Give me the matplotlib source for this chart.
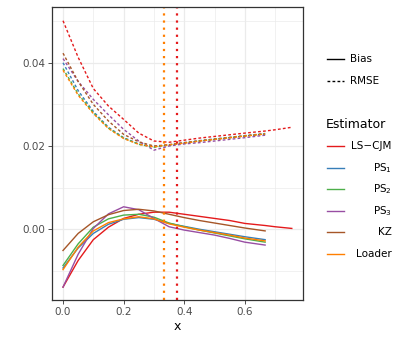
import matplotlib
matplotlib.use("Agg")
import matplotlib.pyplot as plt
from matplotlib.lines import Line2D
import numpy as np

# grid of x values
x_main = [0, 0.05, 0.1, 0.15, 0.2, 0.25, 0.3, 0.35, 0.4, 0.45, 0.5, 0.55, 0.6, 0.667]
x_ls = x_main + [0.7, 0.755]

estimators = ["LS-CJM", "PS1", "PS2", "PS3", "KZ", "Loader"]
labels = ["LS\u2212CJM", "PS$_1$", "PS$_2$", "PS$_3$", "KZ", "Loader"]
colors = ["#E41A1C", "#377EB8", "#4DAF4A", "#984EA3", "#A65628", "#FF7F00"]

rmse_ls = [0.0501, 0.0413, 0.0338, 0.0296, 0.0264, 0.0231, 0.0212, 0.0209, 0.0214,
           0.0219, 0.0223, 0.0227, 0.0231, 0.0236, 0.0239, 0.0245]
rmse_ps1 = [0.0400, 0.0333, 0.0283, 0.0245, 0.0220, 0.0205, 0.0199, 0.0203, 0.0208,
            0.0213, 0.0217, 0.0221, 0.0225, 0.0230]
rmse_ps2 = [0.0386, 0.0325, 0.0280, 0.0243, 0.0219, 0.0204, 0.0197, 0.0202, 0.0207,
            0.0212, 0.0216, 0.0220, 0.0224, 0.0229]
rmse_ps3 = [0.0410, 0.0355, 0.0312, 0.0275, 0.0240, 0.0212, 0.0190, 0.0200, 0.0205,
            0.0208, 0.0212, 0.0216, 0.0220, 0.0226]
rmse_kz = [0.0423, 0.0355, 0.0300, 0.0260, 0.0228, 0.0210, 0.0200, 0.0203, 0.0208,
           0.0212, 0.0216, 0.0220, 0.0224, 0.0229]
rmse_loader = [0.0382, 0.0322, 0.0278, 0.0242, 0.0218, 0.0204, 0.0198, 0.0203, 0.0207,
               0.0212, 0.0216, 0.0220, 0.0224, 0.0229]

bias_ls = [-0.0139, -0.0075, -0.0025, 0.0005, 0.0026, 0.0036, 0.0041, 0.0041, 0.0036,
           0.0031, 0.0026, 0.0021, 0.0014, 0.0009, 0.0006, 0.0002]
bias_ps1 = [-0.0093, -0.0045, -0.0010, 0.0012, 0.0024, 0.0028, 0.0024, 0.0014, 0.0007,
            0.0000, -0.0006, -0.0012, -0.0018, -0.0025]
bias_ps2 = [-0.0087, -0.0035, 0.0005, 0.0025, 0.0034, 0.0036, 0.0029, 0.0015, 0.0006,
            -0.0002, -0.0009, -0.0016, -0.0023, -0.0031]
bias_ps3 = [-0.0139, -0.0060, 0.0002, 0.0037, 0.0054, 0.0047, 0.0026, 0.0006, -0.0002,
            -0.0008, -0.0014, -0.0022, -0.0031, -0.0038]
bias_kz = [-0.0051, -0.0010, 0.0018, 0.0035, 0.0045, 0.0048, 0.0044, 0.0036, 0.0028,
           0.0021, 0.0015, 0.0009, 0.0003, -0.0004]
bias_loader = [-0.0097, -0.0043, -0.0004, 0.0016, 0.0025, 0.0030, 0.0025, 0.0013, 0.0005,
               -0.0002, -0.0008, -0.0014, -0.0021, -0.0028]

vlines = [0.333, 0.377]
vline_colors = ["#FF7F00", "#E41A1C"]

rmse = [rmse_ls, rmse_ps1, rmse_ps2, rmse_ps3, rmse_kz, rmse_loader]
bias = [bias_ls, bias_ps1, bias_ps2, bias_ps3, bias_kz, bias_loader]
xs = [x_ls] + [x_main] * 5

fig = plt.figure(figsize=(4.07, 3.39), dpi=100)
ax = fig.add_axes([0.1278, 0.115, 0.6167, 0.8644])

for x, r, b, c in zip(xs, rmse, bias, colors):
    ax.plot(x, r, color=c, lw=1.0, ls=(0, (2, 1.6)))
    ax.plot(x, b, color=c, lw=1.0, ls="-")

for v, c in zip(vlines, vline_colors):
    ax.axvline(v, color=c, lw=1.6, ls=(0, (1, 2.2)))

ax.set_xlim(-0.0363, 0.792)
ax.set_ylim(-0.017, 0.0534)
ax.set_xticks([0, 0.2, 0.4, 0.6])
ax.set_xticklabels(["0.0", "0.2", "0.4", "0.6"])
ax.set_yticks([0.0, 0.02, 0.04])
ax.set_yticklabels(["0.00", "0.02", "0.04"])
ax.set_xticks([0.1, 0.3, 0.5, 0.7], minor=True)
ax.set_yticks([-0.01, 0.01, 0.03, 0.05], minor=True)
ax.grid(True, which="major", color="#EBEBEB", lw=0.9)
ax.grid(True, which="minor", color="#EBEBEB", lw=0.5)
ax.set_axisbelow(True)
ax.tick_params(which="major", labelsize=7.5, colors="#333333", length=3, width=0.6,
               labelcolor="#4D4D4D", pad=2)
ax.tick_params(which="minor", length=0)
for s in ax.spines.values():
    s.set_color("#333333")
    s.set_linewidth(0.9)
ax.set_xlabel("x", fontsize=9, labelpad=2)

# legend: linetype
kx0, kx1, lx = 326.7 / 407, 344 / 407, 350 / 407
W, H = 407, 339
for yy, lab, ls in [(59.3, "Bias", "-"), (80.7, "RMSE", (0, (2, 1.6)))]:
    fig.add_artist(Line2D([kx0, kx1], [1 - yy / H] * 2, color="black", lw=1.0, ls=ls,
                          transform=fig.transFigure))
    fig.text(lx, 1 - yy / H, lab, fontsize=7.5, va="center", ha="left", color="black")

fig.text(326 / W, 1 - 125 / H, "Estimator", fontsize=9, va="center", ha="left")
ys = [146, 167.7, 189, 210.7, 232, 254]
for yy, lab, c in zip(ys, labels, colors):
    fig.add_artist(Line2D([kx0, kx1], [1 - yy / H] * 2, color=c, lw=1.0,
                          transform=fig.transFigure))
    fig.text(391.7 / W, 1 - yy / H, lab, fontsize=7.5, va="center", ha="right")

fig.savefig("out.png", dpi=100)
